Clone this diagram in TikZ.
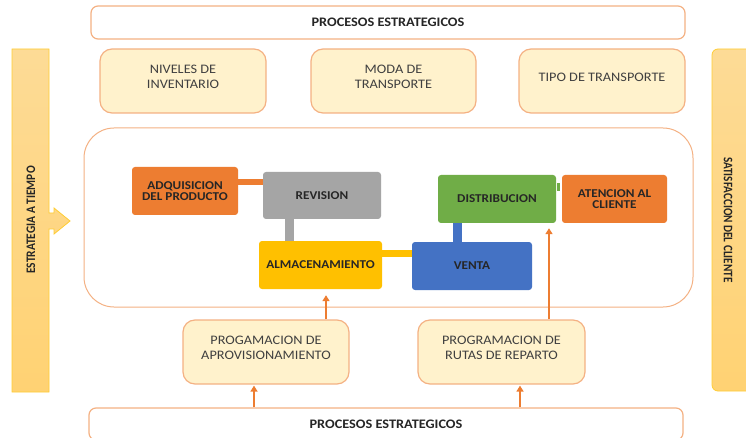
\documentclass[tikz,border=0pt]{standalone}
\usepackage{fontspec}
\setmainfont{Carlito}[FakeStretch=1.1]
\usetikzlibrary{arrows.meta}
\definecolor{salmon}{HTML}{F4B183}
\definecolor{cream}{HTML}{FFF2CC}
\definecolor{naranja}{HTML}{ED7D31}
\definecolor{gris}{HTML}{A5A5A5}
\definecolor{oro}{HTML}{FFC000}
\definecolor{azul}{HTML}{4472C4}
\definecolor{verde}{HTML}{70AD47}
\definecolor{barratop}{HTML}{FDDB96}
\definecolor{barrabot}{HTML}{FFD273}
\definecolor{tinta}{HTML}{262626}

\tikzset{
  proc/.style={draw=salmon, line width=1.2pt, fill=white, rounded corners=7pt,
    font=\bfseries\fontsize{13}{14}\selectfont, text=tinta},
  soft/.style={draw=salmon, line width=1.2pt, fill=cream, rounded corners=12pt,
    minimum height=64pt, align=center, text depth=8pt, font=\fontsize{13}{14.5}\selectfont, text=black!75},
  act/.style={rounded corners=3pt, minimum height=48pt, align=center,
    font=\bfseries\fontsize{12}{11.5}\selectfont, text=tinta},
  link/.style={line width=7pt},
  feed/.style={->, draw=naranja, line width=2.4pt},
  side/.style={font=\bfseries\fontsize{13}{14}\selectfont, text=tinta},
  bar/.style={draw=oro!80, line width=0.8pt, top color=barratop, bottom color=barrabot}
}

\begin{document}
\begin{tikzpicture}[x=1pt, y=-1pt, >={Triangle[width=7pt,length=6pt]}]
  \clip (0,0) rectangle (746,438);
  \useasboundingbox (0,0) rectangle (746,438);

  \draw[bar] (12,49) -- (49,49) -- (49,213) -- (54,213) -- (54,208) -- (70,221)
    -- (54,234) -- (54,229) -- (49,229) -- (49,392) -- (12,392) -- cycle;
  \node[side, rotate=90] (estrategia) at (31,220) {\scalebox{0.8}[1]{ESTRATEGIA A TIEMPO}};

  \draw[bar, rounded corners=6pt] (712,49) rectangle (760,391);
  \node[side, rotate=-90] (satisfaccion) at (728,220) {\scalebox{0.78}[1]{SATISFACCION DEL CLIENTE}};

  \node[proc, minimum width=594pt, minimum height=33pt] (top) at (388,22.5) {PROCESOS ESTRATEGICOS};

  \node[soft, minimum width=166pt] (niveles) at (183,81) {NIVELES DE\\INVENTARIO};
  \node[soft, minimum width=165pt] (moda) at (393.5,81) {MODA DE\\TRANSPORTE};
  \node[soft, minimum width=166pt] (tipo) at (602,81) {TIPO DE TRANSPORTE};

  \node[draw=salmon, line width=1pt, fill=white, rounded corners=30pt,
    minimum width=609pt, minimum height=179pt] (ciclo) at (388.5,217.5) {};

  \node[act, fill=naranja, minimum width=106pt] (adquisicion) at (185,191) {ADQUISICION\\DEL PRODUCTO};
  \node[act, fill=gris, minimum width=118pt, minimum height=47pt] (revision) at (322,195.5) {REVISION};
  \node[act, fill=oro, minimum width=123pt] (almacen) at (320.5,265) {ALMACENAMIENTO};
  \node[act, fill=azul, minimum width=120pt] (venta) at (472,266) {VENTA};
  \node[act, fill=verde, minimum width=118pt] (distribucion) at (497,199) {DISTRIBUCION};
  \node[act, fill=naranja, minimum width=105pt] (atencion) at (614.5,199) {ATENCION AL\\CLIENTE};

  \draw[link, draw=naranja, line width=6pt] ([yshift=9pt]adquisicion.east) -- ([yshift=9pt]adquisicion.east -| revision.west);
  \draw[link, draw=gris, line width=9pt] ([xshift=-33pt]revision.south) -- ([xshift=-33pt]revision.south |- almacen.north);
  \draw[link, draw=oro] ([yshift=12pt]almacen.east) -- ([yshift=12pt]almacen.east -| venta.west);
  \draw[link, draw=azul, line width=9pt] ([xshift=-40pt]distribucion.south) -- ([xshift=-40pt]distribucion.south |- venta.north);
  \draw[link, draw=verde, line width=8pt] ([yshift=12pt,xshift=1pt]distribucion.east) -- ([yshift=12pt,xshift=-2pt]distribucion.east -| atencion.west);

  \node[soft, minimum width=166pt] (aprovisionamiento) at (266,352) {PROGAMACION DE\\APROVISIONAMIENTO};
  \node[soft, minimum width=167pt] (rutas) at (501.5,352) {PROGRAMACION DE\\RUTAS DE REPARTO};

  \node[proc, minimum width=594pt, minimum height=32pt] (bottom) at (386,424) {PROCESOS ESTRATEGICOS};

  \draw[feed] ([xshift=60pt]aprovisionamiento.north) -- ([xshift=60pt,yshift=-6pt]aprovisionamiento.north |- almacen.south);
  \draw[feed] ([xshift=47.5pt]rutas.north) -- ([xshift=47.5pt,yshift=-5pt]rutas.north |- distribucion.south);
  \draw[feed] ([xshift=-12pt]aprovisionamiento.south |- bottom.north) -- ([xshift=-12pt,yshift=-1pt]aprovisionamiento.south);
  \draw[feed] ([xshift=18.5pt]rutas.south |- bottom.north) -- ([xshift=18.5pt,yshift=-1pt]rutas.south);
\end{tikzpicture}
\end{document}
